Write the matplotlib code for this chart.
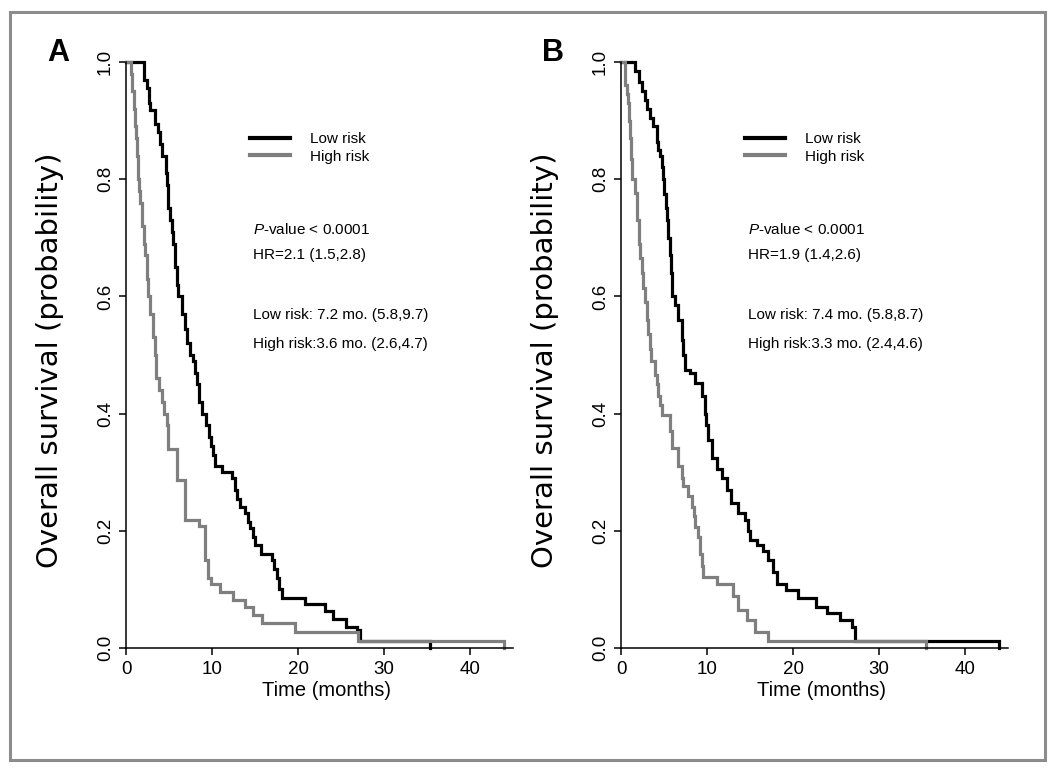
import matplotlib
matplotlib.use("Agg")
import matplotlib.pyplot as plt
from matplotlib.lines import Line2D
from matplotlib.patches import Rectangle

plt.rcParams['font.family'] = ['Liberation Sans', 'DejaVu Sans']
plt.rcParams['mathtext.fontset'] = 'custom'
plt.rcParams['mathtext.it'] = 'Liberation Sans:italic'
plt.rcParams['mathtext.rm'] = 'Liberation Sans'

# ---------------- data (Kaplan-Meier step points: time in months, survival) ----
a_low_t = [0, 2.1, 2.35, 2.6, 2.8, 3.3, 3.7, 3.9, 4.1, 4.6, 4.7, 4.8, 4.9, 5.1, 5.3,
           5.45, 5.65, 5.85, 6.0, 6.5, 6.8, 7.0, 7.4, 7.8, 8.0, 8.2, 8.5, 8.75, 9.3,
           9.6, 9.9, 10.1, 10.3, 11.1, 12.3, 12.6, 12.9, 13.2, 13.8, 14.1, 14.4,
           14.7, 15.0, 15.7, 16.9, 17.2, 17.5, 17.8, 18.1, 20.8, 23.1, 24.1, 25.6,
           26.8, 27.2, 35.4]
a_low_s = [1.0, 0.97, 0.955, 0.93, 0.918, 0.895, 0.88, 0.86, 0.84, 0.81, 0.79, 0.77,
           0.75, 0.73, 0.71, 0.69, 0.65, 0.62, 0.60, 0.57, 0.545, 0.52, 0.50, 0.49,
           0.47, 0.45, 0.42, 0.40, 0.38, 0.36, 0.345, 0.33, 0.31, 0.30, 0.29, 0.27,
           0.255, 0.24, 0.23, 0.215, 0.205, 0.19, 0.175, 0.16, 0.15, 0.135, 0.12,
           0.10, 0.085, 0.075, 0.063, 0.05, 0.036, 0.03, 0.012, 0.0]
a_high_t = [0, 0.5, 0.7, 0.85, 1.0, 1.1, 1.25, 1.4, 1.5, 1.6, 1.8, 2.0, 2.2, 2.4,
            2.55, 2.8, 3.1, 3.3, 3.45, 3.5, 3.8, 4.1, 4.4, 4.7, 4.9, 5.85, 6.8, 8.4,
            9.15, 9.5, 9.9, 10.9, 12.4, 13.8, 14.7, 15.75, 19.6, 27.0, 43.9]
a_high_s = [1.0, 0.98, 0.95, 0.92, 0.89, 0.87, 0.84, 0.80, 0.78, 0.76, 0.72, 0.69,
            0.67, 0.63, 0.60, 0.57, 0.53, 0.50, 0.48, 0.46, 0.44, 0.42, 0.40, 0.38,
            0.34, 0.287, 0.218, 0.208, 0.15, 0.12, 0.11, 0.096, 0.082, 0.07, 0.056,
            0.042, 0.028, 0.012, 0.0]

b_low_t = [0, 1.6, 2.0, 2.4, 2.75, 3.0, 3.3, 3.7, 4.1, 4.3, 4.5, 4.7, 4.9, 5.0, 5.15,
           5.27, 5.45, 5.66, 5.75, 5.86, 6.24, 6.6, 7.0, 7.2, 7.4, 8.0, 8.6, 9.35,
           9.7, 9.9, 10.1, 10.5, 11.1, 11.7, 12.25, 12.8, 13.6, 14.4, 14.7, 15.0,
           15.75, 16.5, 17.1, 17.6, 18.1, 19.2, 20.6, 22.7, 23.9, 25.4, 26.8, 27.2,
           43.9]
b_low_s = [1.0, 0.985, 0.966, 0.95, 0.935, 0.92, 0.905, 0.89, 0.864, 0.85, 0.84,
           0.82, 0.80, 0.775, 0.75, 0.73, 0.70, 0.67, 0.64, 0.60, 0.585, 0.56, 0.525,
           0.50, 0.474, 0.469, 0.452, 0.43, 0.40, 0.38, 0.355, 0.325, 0.306, 0.29,
           0.27, 0.247, 0.23, 0.218, 0.20, 0.184, 0.175, 0.165, 0.15, 0.13, 0.11,
           0.099, 0.085, 0.07, 0.06, 0.048, 0.036, 0.012, 0.0]
b_high_t = [0, 0.4, 0.6, 0.8, 0.9, 1.0, 1.1, 1.2, 1.6, 1.8, 2.0, 2.2, 2.36, 2.55,
            2.75, 2.95, 3.13, 3.3, 3.5, 3.9, 4.1, 4.3, 4.5, 4.7, 5.66, 5.86, 6.6, 7.0,
            7.2, 7.8, 8.2, 8.4, 8.6, 8.9, 9.15, 9.35, 9.5, 11.1, 13.0, 13.6, 14.6,
            15.6, 17.1, 35.5]
b_high_s = [1.0, 0.96, 0.945, 0.93, 0.90, 0.87, 0.835, 0.80, 0.776, 0.73, 0.69,
            0.665, 0.64, 0.615, 0.59, 0.56, 0.535, 0.51, 0.49, 0.466, 0.45, 0.43,
            0.415, 0.398, 0.37, 0.341, 0.31, 0.29, 0.276, 0.26, 0.24, 0.225, 0.207,
            0.19, 0.16, 0.14, 0.122, 0.11, 0.088, 0.065, 0.048, 0.028, 0.012, 0.0]

series_labels = ["Low risk", "High risk"]
x_ticks = [0, 10, 20, 30, 40]
y_ticks = [0.0, 0.2, 0.4, 0.6, 0.8, 1.0]
panel_letters = ["A", "B"]
stats_text = [
    ["$P$-value < 0.0001", "HR=2.1 (1.5,2.8)",
     "Low risk: 7.2 mo. (5.8,9.7)", "High risk:3.6 mo. (2.6,4.7)"],
    ["$P$-value < 0.0001", "HR=1.9 (1.4,2.6)",
     "Low risk: 7.4 mo. (5.8,8.7)", "High risk:3.3 mo. (2.4,4.6)"],
]

# ---------------- layout ----------------
W, H = 1050, 768
fig = plt.figure(figsize=(W / 100, H / 100), dpi=100)

def fx(px):
    return px / W

def fy(py):
    return 1 - py / H

# outer grey frame
fig.patches.append(Rectangle((fx(10), fy(760)), fx(1045) - fx(10), fy(12) - fy(760),
                             transform=fig.transFigure, fill=False,
                             edgecolor='#8c8c8c', linewidth=2.2))

GRAY = '#7f7f7f'
panels = [(a_low_t, a_low_s, a_high_t, a_high_s, 126.4),
          (b_low_t, b_low_s, b_high_t, b_high_s, 621.4)]
ppm = 8.59  # pixels per month
AX_BOTTOM, AX_H = 665.6, 621.2
for i, (lt, ls, ht, hs, x0) in enumerate(panels):
    xmin, xmax = -1.5, 46
    left = x0 + xmin * ppm
    width = (xmax - xmin) * ppm
    ax = fig.add_axes([fx(left), fy(AX_BOTTOM), width / W, AX_H / H])
    ax.set_xlim(xmin, xmax)
    ax.set_ylim(-0.03, 1.03)
    ax.step(lt, ls, where='post', color='black', lw=2.3, solid_joinstyle='miter')
    ax.step(ht, hs, where='post', color=GRAY, lw=2.3, solid_joinstyle='miter')

    for s in ['top', 'right']:
        ax.spines[s].set_visible(False)
    ax.spines['left'].set_position(('data', 0))
    ax.spines['bottom'].set_position(('data', 0))
    ax.spines['left'].set_bounds(0, 1)
    ax.spines['bottom'].set_bounds(0, 45)
    for s in ['left', 'bottom']:
        ax.spines[s].set_linewidth(1.1)
    ax.set_xticks(x_ticks)
    ax.set_yticks(y_ticks)
    ax.set_xticklabels([str(v) for v in x_ticks], fontsize=13.5)
    ax.set_yticklabels([f"{v:.1f}" for v in y_ticks], fontsize=13.5, rotation=90,
                       va='center')
    ax.tick_params(direction='out', length=5, width=1.1, pad=4)
    ax.set_xlabel("Time (months)", fontsize=14.5, va='center')
    ax.xaxis.set_label_coords((x0 + 200 - left) / width, (AX_BOTTOM - 690) / AX_H)
    ax.set_ylabel("Overall survival (probability)", fontsize=21,
                  family=['DejaVu Sans'], va='center')
    ax.yaxis.set_label_coords((x0 - 76 - left) / width, (AX_BOTTOM - 360) / AX_H)
    ax.patch.set_alpha(0)

    # legend
    handles = [Line2D([], [], color='black', lw=3),
               Line2D([], [], color=GRAY, lw=3)]
    ax.legend(handles, series_labels, loc='upper left',
              bbox_to_anchor=(fx(x0 + 124), fy(132)), bbox_transform=fig.transFigure,
              frameon=False, fontsize=11, handlelength=2.6, handletextpad=1.3,
              labelspacing=0.25, borderpad=0, borderaxespad=0)

    # statistics text
    tx = x0 + 127
    for txt, py in zip(stats_text[i], [229, 255, 315, 344]):
        fig.text(fx(tx), fy(py), txt, fontsize=11, va='center', ha='left')

    # panel letter
    fig.text(fx(x0 - 68), fy(53), panel_letters[i], fontsize=22, fontweight='bold',
             va='center', ha='center')

fig.savefig("out.png", dpi=100)
